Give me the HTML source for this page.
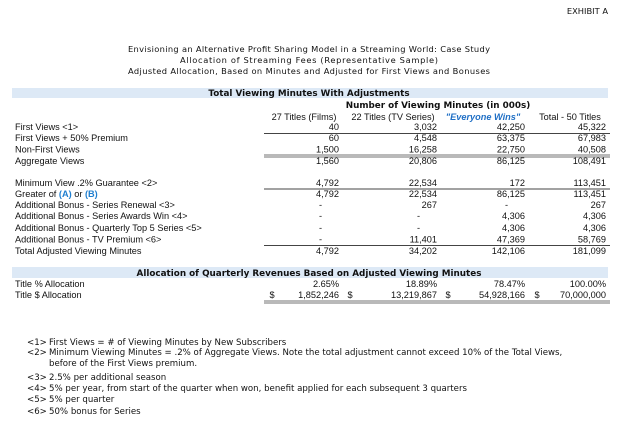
<!DOCTYPE html>
<html><head><meta charset="utf-8"><style>
html,body{margin:0;padding:0;background:#fff;width:624px;height:439px;overflow:hidden}
svg{display:block;font-family:"DejaVu Sans","Liberation Sans",sans-serif;font-size:8.3px;fill:#111}
.b{font-weight:bold}
#rows text{font-family:"Liberation Sans","DejaVu Sans",sans-serif;font-size:9.2px}
#notes text{font-size:8.6px}
</style></head><body>
<svg id="s" width="624" height="439" viewBox="0 0 624 439" xmlns="http://www.w3.org/2000/svg">
<text x="608" y="14" text-anchor="end">EXHIBIT A</text>
<text x="309" y="52" text-anchor="middle" textLength="362">Envisioning an Alternative Profit Sharing Model in a Streaming World: Case Study</text>
<text x="309" y="63" text-anchor="middle" textLength="258">Allocation of Streaming Fees (Representative Sample)</text>
<text x="309" y="74" text-anchor="middle" textLength="362">Adjusted Allocation, Based on Minutes and Adjusted for First Views and Bonuses</text>
<rect x="12" y="88" width="596" height="10" fill="#dde9f6"/>
<text x="309" y="96" text-anchor="middle" class="b" font-size="8.8">Total Viewing Minutes With Adjustments</text>
<text x="438" y="108" text-anchor="middle" class="b" font-size="8.8">Number of Viewing Minutes (in 000s)</text>
<rect x="12" y="267" width="596" height="11" fill="#dde9f6"/>
<text x="309" y="276" text-anchor="middle" class="b" font-size="8.8">Allocation of Quarterly Revenues Based on Adjusted Viewing Minutes</text>
<g id="rows"></g>
<g id="notes"></g>
</svg>
<script>
const NS="http://www.w3.org/2000/svg";
const columns=["27 Titles (Films)","22 Titles (TV Series)","\"Everyone Wins\"","Total - 50 Titles"];
const rowLabels=["First Views <1>","First Views + 50% Premium","Non-First Views","Aggregate Views","Minimum View .2% Guarantee  <2>","Greater of (A) or (B)","Additional Bonus - Series Renewal <3>","Additional Bonus - Series Awards Win <4>","Additional Bonus - Quarterly Top 5 Series <5>","Additional Bonus - TV Premium <6>","Total Adjusted Viewing Minutes","Title % Allocation","Title $ Allocation"];
const films=["40","60","1,500","1,560","4,792","4,792","-","-","-","-","4,792","2.65%","1,852,246"];
const tvSeries=["3,032","4,548","16,258","20,806","22,534","22,534","267","-","-","11,401","34,202","18.89%","13,219,867"];
const everyoneWins=["42,250","63,375","22,750","86,125","172","86,125","-","4,306","4,306","47,369","142,106","78.47%","54,928,166"];
const total=["45,322","67,983","40,508","108,491","113,451","113,451","267","4,306","4,306","58,769","181,099","100.00%","70,000,000"];
const footNums=["<1>","<2>","","<3>","<4>","<5>","<6>"];
const footTexts=["First Views = # of Viewing Minutes by New Subscribers","Minimum Viewing Minutes = .2% of Aggregate Views. Note the total adjustment cannot exceed 10% of the Total Views,","before of the First Views premium.","2.5% per additional season","5% per year, from start of the quarter when won, benefit applied for each subsequent 3 quarters","5% per quarter","50% bonus for Series"];

const rowY=[130,141,152.5,164,186,197,208,219,231,242.5,254,287,298];
const colRight=[339,437,525,606];
const hdrCenter=[304,393,483,570];
const series=[films,tvSeries,everyoneWins,total];
const g=document.getElementById('rows');
function t(x,y,s,anchor,parent){const e=document.createElementNS(NS,'text');e.setAttribute('x',x);e.setAttribute('y',y);if(anchor)e.setAttribute('text-anchor',anchor);e.textContent=s;(parent||g).appendChild(e);return e;}
function line(x1,y,x2,w,name){const l=document.createElementNS(NS,'line');l.setAttribute('x1',x1);l.setAttribute('x2',x2);l.setAttribute('y1',y);l.setAttribute('y2',y);l.setAttribute('stroke','#444');l.setAttribute('stroke-width',w);


g.appendChild(l);}
columns.forEach((c,i)=>{const e=t(hdrCenter[i],120,c,'middle');


if(i===2){e.setAttribute('fill','#1f6fc5');e.setAttribute('font-style','italic');e.setAttribute('font-weight','bold');}});
rowLabels.forEach((lab,r)=>{
 let e;
 if(r===5){e=t(15,rowY[r],'');e.innerHTML='Greater of <tspan fill="#1f7fd0" font-weight="bold">(A)</tspan> or <tspan fill="#1f7fd0" font-weight="bold">(B)</tspan>';}
 else e=t(15,rowY[r],lab);
 
 
 series.forEach((s,c)=>{const v=t(colRight[c]-(s[r]==='-'?17:0),rowY[r],s[r],'end');
 
 });
});
[272,350,448,537].forEach(x=>{const d=t(x,298,'$','middle');

});
line(264,133.5,610,0.9,'rule');
line(264,155,610,0.8,'double-rule');line(264,157,610,0.8,'double-rule');
line(264,189,610,0.9,'rule');
line(264,245.5,610,0.9,'rule');
line(264,301,610,0.8,'double-rule');line(264,303,610,0.8,'double-rule');
const n=document.getElementById('notes');
const noteY=[345,355,366,380,391,402,414];
footTexts.forEach((s,i)=>{
 if(footNums[i]){const a=t(27,noteY[i],footNums[i],null,n);
 
 }
 const b=t(49,noteY[i],s,null,n);
 
 
});
</script>
</body></html>
